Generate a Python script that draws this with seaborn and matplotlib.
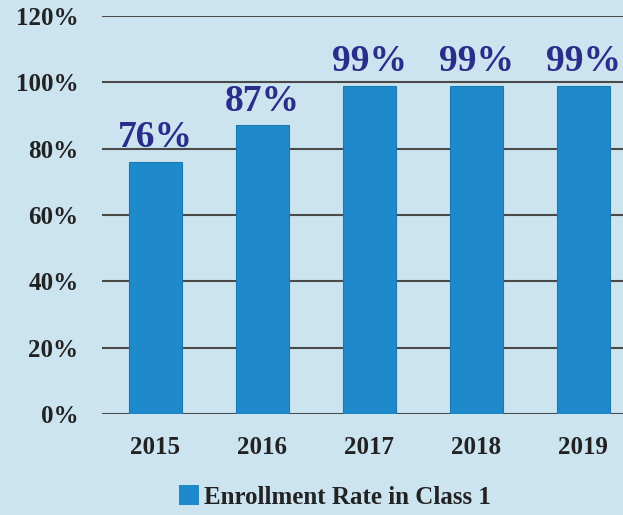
import matplotlib
matplotlib.use("Agg")
import matplotlib.pyplot as plt
import seaborn as sns
from matplotlib.patches import Patch

years = ["2015", "2016", "2017", "2018", "2019"]
rates = [76, 87, 99, 99, 99]
yticks = [0, 20, 40, 60, 80, 100, 120]
series_name = "Enrollment Rate in Class 1"

bg = "#CCE4F0"
bar_color = "#1E8ACB"
label_color = "#2A2D8A"

sns.set_theme(style="white")
plt.rcParams["font.family"] = ["Liberation Serif", "DejaVu Serif"]

fig = plt.figure(figsize=(6.23, 5.15), dpi=100, facecolor=bg)
ax = fig.add_axes([102 / 623, 1 - 414 / 515, 1 - 102 / 623, (414 - 16) / 515])
ax.set_facecolor(bg)

sns.barplot(x=years, y=rates, color=bar_color, saturation=1, width=0.5, ax=ax,
            edgecolor="#1a78b3", linewidth=0.8, zorder=3)

ax.set_ylim(0, 120)
ax.set_xlim(-0.5, 4.37)
ax.set_yticks(yticks)
ax.set_yticklabels([f"{t}%" for t in yticks], fontsize=18, fontweight="bold", color="#222222")
ax.set_xticklabels(years, fontsize=18, fontweight="bold", color="#222222")
ax.tick_params(axis="y", length=0, pad=17)
ax.tick_params(axis="x", length=0, pad=16)
ax.set_xlabel("")
ax.set_ylabel("")
for t in yticks:
    ax.axhline(t, color="#4a4a4a", lw=1.5, zorder=1)
for s in ax.spines.values():
    s.set_visible(False)

for i, v in enumerate(rates):
    ax.annotate(f"{v}%", (i, v), xytext=(0, 5), textcoords="offset points",
                ha="center", va="bottom", fontsize=27, fontweight="bold",
                color=label_color, zorder=4)

handle = Patch(facecolor=bar_color, edgecolor="none")
fig.legend([handle], [series_name], loc="center", bbox_to_anchor=(335 / 623, 1 - 497 / 515),
           frameon=False, prop={"family": "Liberation Serif", "weight": "bold", "size": 18},
           handlelength=0.8, handleheight=0.8, handletextpad=0.2, labelcolor="#222222")

fig.savefig("out.png", dpi=100, facecolor=bg)
